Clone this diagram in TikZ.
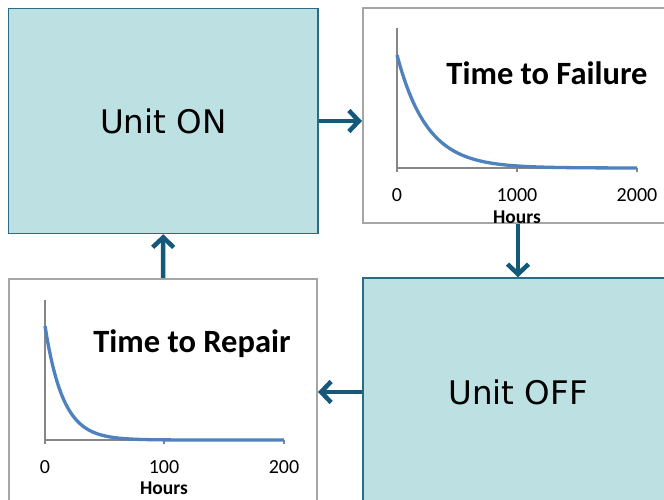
\documentclass[tikz,border=0pt]{standalone}
\usepackage{fontspec}
\setmainfont{Carlito}
\newfontfamily\dejavu{DejaVu Sans}
\usetikzlibrary{arrows.meta}
\definecolor{boxfill}{HTML}{BDE0E3}
\definecolor{boxline}{HTML}{2C6B86}
\definecolor{arrcol}{HTML}{14587A}
\definecolor{curvecol}{HTML}{4F81BD}
\definecolor{axisgray}{HTML}{868686}
\definecolor{chartline}{HTML}{A6A6A6}
\begin{document}
\begin{tikzpicture}[x=1pt,y=-1pt,
  state/.style={draw=boxline, fill=boxfill, line width=1.5pt, inner sep=0pt,
    font=\dejavu\fontsize{32.5}{38}\selectfont},
  chart/.style={draw=chartline, fill=white, line width=2pt, inner sep=0pt},
  arr/.style={draw=arrcol, line width=4.5pt, -{Straight Barb[length=10pt,width=21pt]}},
  axisline/.style={draw=axisgray, line width=2pt},
  curveline/.style={draw=curvecol, line width=3.3pt},
  ticklab/.style={inner sep=0pt, font=\fontsize{20}{22}\selectfont},
  hourslab/.style={inner sep=0pt, font=\bfseries\fontsize{19.5}{22}\selectfont},
  charttitle/.style={inner sep=0pt, font=\bfseries\fontsize{32.5}{38}\selectfont}]
\useasboundingbox (0,0) rectangle (664,500);
\clip (0,0) rectangle (664,500);
\fill[white] (0,0) rectangle (664,500);

% boxes
\node[state, minimum width=309.5pt, minimum height=225pt] (on) at (163.25,121) {Unit ON};
\node[chart, minimum width=310pt, minimum height=214.5pt] (ttf) at (518,115.75) {};
\node[state, minimum width=310pt, minimum height=228pt] (off) at (518,392) {Unit OFF};
\node[chart, minimum width=308pt, minimum height=226pt] (ttr) at (163,392) {};

% connectors
\draw[arr] (on.east) -- (on.east -| ttf.west);
\draw[arr] (ttf.south) -- (off.north);
\draw[arr] (off.west) -- (ttr.east);
\draw[arr] (ttr.north) -- (on.south);

% time to failure chart
\draw[axisline] (397,28) -- (397,172);
\draw[axisline] (397,168) -- (637,168);
\draw[axisline] (517,168) -- (517,172);
\draw[axisline] (637,168) -- (637,172);
\draw[curveline] plot[domain=0:240, samples=120] ({397+\x},{168-113*exp(-\x/30)});
\node[ticklab] (f0) at (397,195) {0};
\node[ticklab] (f1) at (517,195) {1000};
\node[ticklab] (f2) at (637,195) {2000};
\node[hourslab] (fh) at (517,217) {Hours};
\node[charttitle] (ft) at (547,73) {Time to Failure};

% time to repair chart
\draw[axisline] (45,300) -- (45,444);
\draw[axisline] (45,440) -- (284,440);
\draw[axisline] (164,440) -- (164,444);
\draw[axisline] (284,440) -- (284,444);
\draw[curveline] plot[domain=0:239, samples=120] ({45+\x},{440-114*exp(-\x/18)});
\node[ticklab] (r0) at (45,467) {0};
\node[ticklab] (r1) at (164,467) {100};
\node[ticklab] (r2) at (284,467) {200};
\node[hourslab] (rh) at (164,488) {Hours};
\node[charttitle] (rt) at (192,344) {Time to Repair};
\end{tikzpicture}
\end{document}
